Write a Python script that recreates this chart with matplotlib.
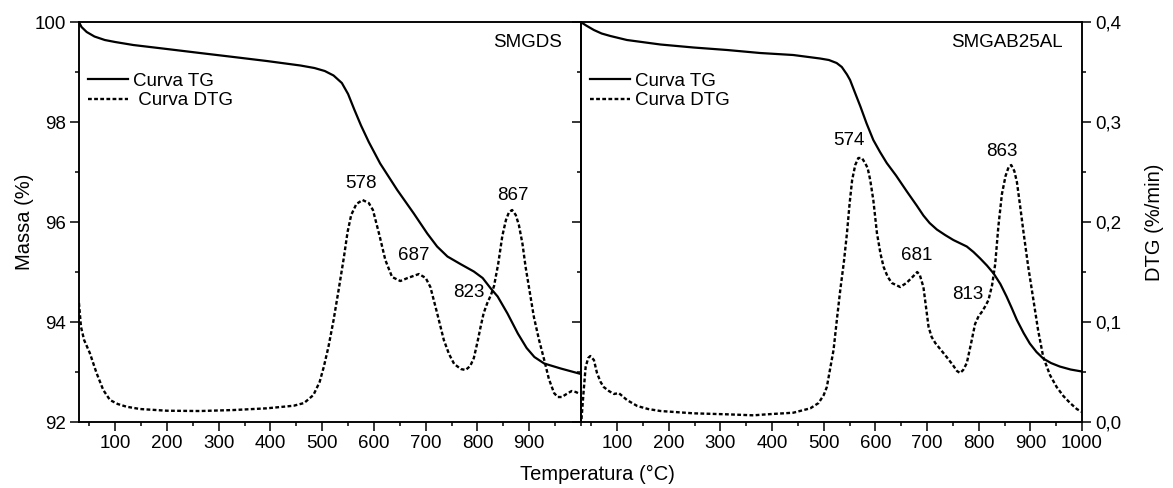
import matplotlib
matplotlib.use("Agg")
import matplotlib.pyplot as plt
from matplotlib.ticker import MultipleLocator, FixedLocator, FuncFormatter

plt.rcParams['font.family'] = ['Liberation Sans', 'DejaVu Sans']

# SMGDS - TG (massa %) e DTG (%/min)
smgds_tg_t = [30, 35, 45, 60, 80, 100, 135, 200, 264, 329, 393, 458, 485, 505, 522, 538, 550, 562,
              575, 590, 612, 645, 677, 703, 722, 742, 767, 793, 810, 825, 839, 858, 878, 895, 910,
              929, 961, 1000]
smgds_tg_m = [100.0, 99.90, 99.80, 99.71, 99.64, 99.60, 99.54, 99.46, 99.38, 99.30, 99.22, 99.13,
              99.08, 99.02, 98.93, 98.78, 98.56, 98.25, 97.93, 97.60, 97.17, 96.64, 96.17, 95.77,
              95.51, 95.31, 95.16, 95.01, 94.88, 94.68, 94.51, 94.17, 93.77, 93.48, 93.30, 93.17,
              93.07, 92.96]
smgds_dtg_t = [30, 34, 40, 51, 64, 77, 90, 105, 122, 148, 200, 264, 329, 393, 445, 465, 483, 495,
               503, 512, 522, 532, 542, 549, 556, 566, 578, 590, 598, 604, 610, 622, 635, 651, 665,
               687, 700, 709, 722, 735, 745, 755, 768, 777, 786, 793, 800, 806, 812, 819, 826, 832,
               840, 848, 855, 861, 867, 874, 880, 887, 893, 901, 909, 919, 929, 938, 948, 955, 963,
               972, 982, 990, 998]
smgds_dtg_v = [0.119, 0.095, 0.082, 0.069, 0.049, 0.032, 0.022, 0.018, 0.0153, 0.013, 0.0113,
               0.011, 0.012, 0.0137, 0.0163, 0.019, 0.027, 0.040, 0.055, 0.075, 0.102, 0.133,
               0.165, 0.190, 0.207, 0.218, 0.222, 0.219, 0.212, 0.200, 0.188, 0.162, 0.145, 0.141,
               0.144, 0.148, 0.144, 0.135, 0.109, 0.082, 0.068, 0.058, 0.053, 0.052, 0.056, 0.064,
               0.080, 0.095, 0.109, 0.119, 0.127, 0.136, 0.158, 0.186, 0.202, 0.210, 0.212, 0.207,
               0.197, 0.178, 0.155, 0.130, 0.105, 0.082, 0.062, 0.043, 0.029, 0.025, 0.025, 0.028,
               0.031, 0.030, 0.028]
smgds_peaks = [578, 687, 823, 867]
smgds_peak_pos = [(574, 0.239), (677, 0.167), (784, 0.130), (869, 0.227)]

# SMGAB25AL - TG (massa %) e DTG (%/min)
smgab_tg_t = [31, 40, 55, 70, 87, 119, 184, 248, 313, 377, 441, 493, 510, 525, 535, 545, 551, 560,
              571, 583, 596, 609, 622, 640, 661, 680, 693, 705, 719, 735, 751, 765, 777, 790, 803,
              816, 829, 842, 854, 864, 874, 887, 899, 912, 925, 940, 957, 978, 1000]
smgab_tg_m = [99.99, 99.93, 99.84, 99.77, 99.72, 99.64, 99.55, 99.49, 99.44, 99.38, 99.34, 99.27,
              99.24, 99.18, 99.10, 98.95, 98.84, 98.60, 98.31, 97.97, 97.64, 97.40, 97.18, 96.93,
              96.61, 96.33, 96.13, 95.98, 95.85, 95.74, 95.64, 95.57, 95.51, 95.40, 95.27, 95.13,
              94.97, 94.76, 94.51, 94.28, 94.04, 93.78, 93.57, 93.40, 93.27, 93.18, 93.11, 93.05,
              93.01]
smgab_dtg_t = [31, 35, 39, 44, 48, 55, 61, 68, 74, 84, 94, 103, 110, 119, 139, 160, 184, 248, 313,
               364, 390, 441, 474, 490, 500, 506, 513, 519, 526, 532, 539, 545, 550, 555, 561, 567,
               574, 580, 585, 590, 596, 603, 610, 616, 624, 632, 648, 660, 670, 681, 686, 693, 698,
               703, 709, 716, 727, 738, 750, 758, 764, 770, 777, 785, 793, 800, 806, 813, 819, 826,
               832, 838, 845, 852, 858, 863, 869, 874, 880, 887, 896, 906, 915, 925, 938, 951, 964,
               977, 990, 1000]
smgab_dtg_v = [0.003, 0.030, 0.055, 0.064, 0.066, 0.062, 0.049, 0.040, 0.035, 0.031, 0.028, 0.029,
               0.026, 0.022, 0.016, 0.013, 0.011, 0.0087, 0.0077, 0.0067, 0.0077, 0.0093, 0.0137,
               0.019, 0.027, 0.035, 0.055, 0.072, 0.105, 0.132, 0.160, 0.189, 0.218, 0.242, 0.257,
               0.264, 0.264, 0.259, 0.254, 0.242, 0.222, 0.189, 0.168, 0.155, 0.145, 0.139, 0.135,
               0.139, 0.144, 0.150, 0.147, 0.135, 0.115, 0.095, 0.085, 0.079, 0.072, 0.065, 0.057,
               0.051, 0.049, 0.052, 0.059, 0.078, 0.098, 0.106, 0.110, 0.116, 0.122, 0.137, 0.158,
               0.195, 0.228, 0.246, 0.255, 0.257, 0.251, 0.240, 0.217, 0.189, 0.155, 0.122, 0.092,
               0.065, 0.047, 0.035, 0.026, 0.019, 0.013, 0.010]
smgab_peaks = [574, 681, 813, 863]
smgab_peak_pos = [(548, 0.282), (680, 0.167), (778, 0.128), (845, 0.271)]

FS = 13.5
DASH = (0, (1.6, 1.0))

fig = plt.figure(figsize=(11.73, 4.88), dpi=100)
axL = fig.add_axes([0.0673, 0.1352, 0.4280, 0.8197])
axR = fig.add_axes([0.4953, 0.1352, 0.4271, 0.8197])

comma = FuncFormatter(lambda v, p: f"{v:.1f}".replace('.', ','))


def panel(ax, tg_t, tg_m, dtg_t, dtg_v, peaks, peak_pos, name, xticks, leg_labels):
    ax.plot(tg_t, tg_m, color='black', lw=1.6, label=leg_labels[0])
    ax.set_xlim(30, 1000)
    ax.set_ylim(92, 100)
    ax.xaxis.set_major_locator(FixedLocator(xticks))
    ax.xaxis.set_minor_locator(MultipleLocator(50))
    ax.yaxis.set_major_locator(MultipleLocator(2))
    ax.yaxis.set_minor_locator(MultipleLocator(1))
    ax.tick_params(which='both', direction='out', width=1.1, labelsize=FS, pad=3,
                   top=False, right=False)
    ax.tick_params(which='major', length=6.5)
    ax.tick_params(which='minor', length=3.2)
    for s in ax.spines.values():
        s.set_linewidth(1.1)

    tw = ax.twinx()
    tw.plot(dtg_t, dtg_v, color='black', lw=1.7, linestyle=DASH, label=leg_labels[1])
    tw.set_ylim(0, 0.4)
    tw.yaxis.set_major_locator(MultipleLocator(0.1))
    tw.yaxis.set_minor_locator(MultipleLocator(0.05))
    tw.yaxis.set_major_formatter(comma)
    tw.tick_params(which='both', direction='out', width=1.1, labelsize=FS, pad=3)
    tw.tick_params(which='major', length=6.5)
    tw.tick_params(which='minor', length=3.2)
    for s in tw.spines.values():
        s.set_linewidth(1.1)

    for lab, (x, y) in zip(peaks, peak_pos):
        tw.text(x, y, str(lab), ha='center', va='center', fontsize=FS)
    tw.text(0.962, 0.948, name, transform=tw.transAxes, ha='right', va='center', fontsize=FS)

    h1, l1 = ax.get_legend_handles_labels()
    h2, l2 = tw.get_legend_handles_labels()
    tw.legend(h1 + h2, l1 + l2, loc='upper left', bbox_to_anchor=(0.004, 0.89),
              frameon=False, fontsize=FS, handlelength=2.15, handletextpad=0.3,
              labelspacing=0.12, borderpad=0, borderaxespad=0.35)
    return tw


twL = panel(axL, smgds_tg_t, smgds_tg_m, smgds_dtg_t, smgds_dtg_v, smgds_peaks,
            smgds_peak_pos, 'SMGDS', range(100, 1000, 100), ['Curva TG', ' Curva DTG'])
twR = panel(axR, smgab_tg_t, smgab_tg_m, smgab_dtg_t, smgab_dtg_v, smgab_peaks,
            smgab_peak_pos, 'SMGAB25AL', range(100, 1001, 100), ['Curva TG', 'Curva DTG'])

# left panel: only mass axis on the left; right panel: DTG axis on the right
twL.tick_params(which='both', right=False, labelright=False)
axR.tick_params(which='both', labelleft=False)

axL.set_ylabel('Massa (%)', fontsize=14.5, labelpad=0)
twR.set_ylabel('DTG (%/min)', fontsize=14.5, labelpad=17)
fig.text(0.509, 0.027, 'Temperatura (°C)', ha='center', va='center', fontsize=14.5)

fig.savefig('out.png', dpi=100)
